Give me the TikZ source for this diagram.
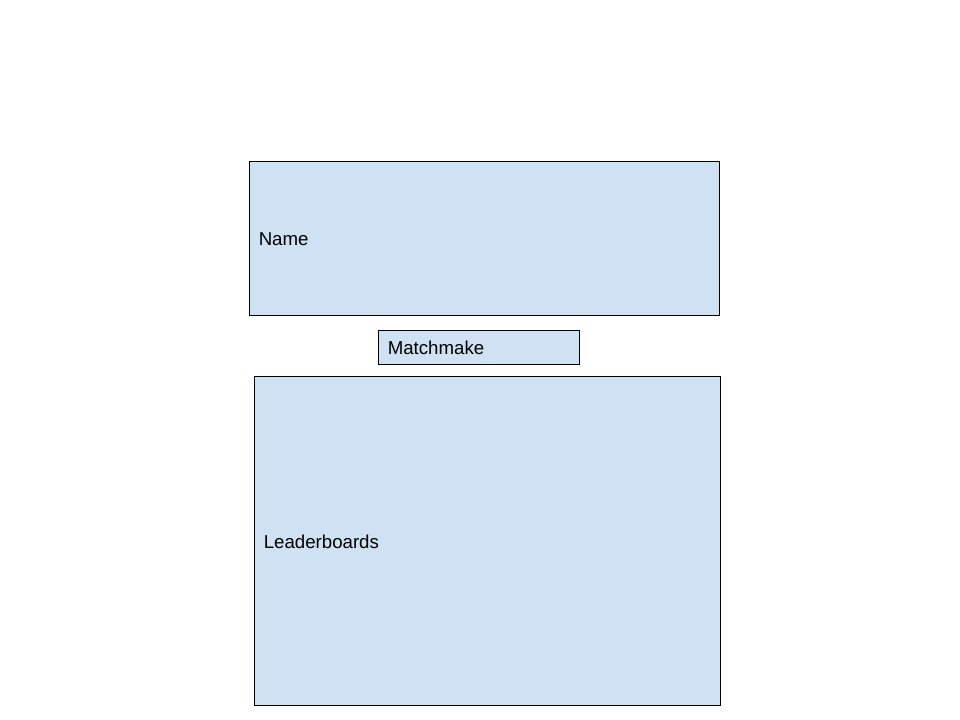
\documentclass[tikz,border=0pt]{standalone}
\usepackage{fontspec}
\setmainfont{Liberation Sans}
\definecolor{boxfill}{HTML}{CFE2F3}
\begin{document}
\begin{tikzpicture}[x=0.75pt,y=-0.75pt,
  panel/.style={draw=black,fill=boxfill,line width=0.75pt},
  lbl/.style={anchor=west,inner sep=0pt,font=\fontsize{14pt}{16pt}\selectfont}]
\useasboundingbox (0,0) rectangle (960,720);
\fill[white] (0,0) rectangle (960,720);
\draw[panel] (249.5,161.5) rectangle (719.5,315.5);
\node[lbl] (name) at (258.5,239) {Name};
\draw[panel] (378.5,330.5) rectangle (579.5,364.5);
\node[lbl] (match) at (387.5,348) {Matchmake};
\draw[panel] (254.5,376.5) rectangle (720.5,705.5);
\node[lbl] (lead) at (263.5,542) {Leaderboards};
\end{tikzpicture}
\end{document}
